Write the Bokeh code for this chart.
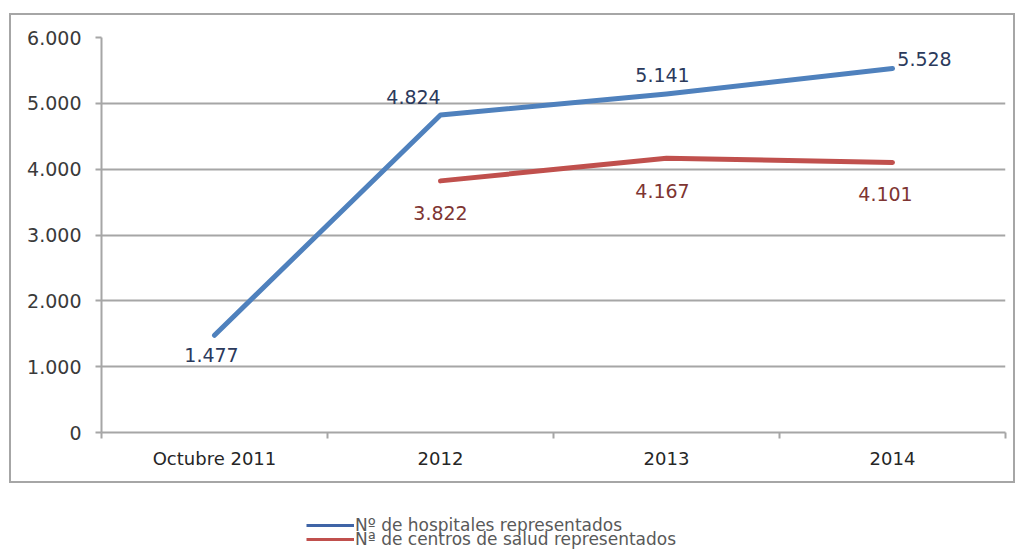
from bokeh.plotting import figure
from bokeh.layouts import column
from bokeh.models import FixedTicker, Legend, LegendItem, ColumnDataSource, Range1d
from bokeh.core.properties import value
from bokeh.embed import file_html
from bokeh.resources import INLINE

categories = ["Octubre 2011", "2012", "2013", "2014"]
hospitales = [1477, 4824, 5141, 5528]
centros = [None, 3822, 4167, 4101]
y_ticks = [0, 1000, 2000, 3000, 4000, 5000, 6000]
series_names = ["Nº de hospitales representados", "Nª de centros de salud representados"]

# label placement offsets (screen px) for data labels
hosp_dx = [-3, -27, -4, 32]
hosp_dy = [20, -18, -19, -10]
cent_dx = [0, 0, -4, -7]
cent_dy = [0, 32, 33, 31]

FONT = "DejaVu Sans"
GRID = "#A6A6A6"
BLUE = "#4F81BD"
RED = "#C0504D"


def fmt(v):
    return "{:,}".format(int(v)).replace(",", ".")


xs = [i + 0.5 for i in range(len(categories))]

p = figure(width=1006, height=470, output_backend="svg", toolbar_location=None,
           x_range=Range1d(0, len(categories)), y_range=Range1d(0, 6000),
           min_border_left=90, min_border_right=12, min_border_top=22, min_border_bottom=53)
p.outline_line_color = None
p.styles = {"border": "2px solid " + GRID}
p.margin = (13, 0, 0, 9)

p.xgrid.visible = False
p.ygrid.grid_line_color = GRID
p.ygrid.grid_line_width = 2
p.ygrid.ticker = FixedTicker(ticks=y_ticks)

p.yaxis.ticker = FixedTicker(ticks=y_ticks)
p.yaxis.major_label_overrides = {t: fmt(t) for t in y_ticks}
p.yaxis.axis_line_color = GRID
p.yaxis.axis_line_width = 2
p.yaxis.major_tick_line_color = GRID
p.yaxis.major_tick_line_width = 2
p.yaxis.major_tick_out = 6
p.yaxis.major_tick_in = 0
p.yaxis.minor_tick_line_color = None
p.yaxis.major_label_standoff = 14
p.yaxis.major_label_text_font = FONT
p.yaxis.major_label_text_font_size = "19px"
p.yaxis.major_label_text_color = "#3A3A3A"

p.xaxis.ticker = FixedTicker(ticks=xs, minor_ticks=list(range(len(categories) + 1)))
p.xaxis.major_label_overrides = {x: c for x, c in zip(xs, categories)}
p.xaxis.axis_line_color = GRID
p.xaxis.axis_line_width = 2
p.xaxis.major_tick_line_color = None
p.xaxis.major_tick_out = 0
p.xaxis.major_tick_in = 0
p.xaxis.minor_tick_line_color = GRID
p.xaxis.minor_tick_line_width = 2
p.xaxis.minor_tick_out = 6
p.xaxis.minor_tick_in = 0
p.xaxis.major_label_standoff = 9
p.xaxis.major_label_text_font = FONT
p.xaxis.major_label_text_font_size = "18px"
p.xaxis.major_label_text_color = "#262626"

hx = xs
hy = hospitales
cx = [x for x, v in zip(xs, centros) if v is not None]
cy = [v for v in centros if v is not None]

p.line(hx, hy, line_color=BLUE, line_width=5, line_cap="round", line_join="round")
p.line(cx, cy, line_color=RED, line_width=5, line_cap="round", line_join="round")

src_h = ColumnDataSource(dict(x=hx, y=hy, t=[fmt(v) for v in hy], dx=hosp_dx, dy=hosp_dy))
p.text(x="x", y="y", text="t", x_offset="dx", y_offset="dy", source=src_h,
       text_font=value(FONT), text_font_size="19px", text_color="#2B3A5C",
       text_align="center", text_baseline="middle")

cdx = [d for d, v in zip(cent_dx, centros) if v is not None]
cdy = [d for d, v in zip(cent_dy, centros) if v is not None]
src_c = ColumnDataSource(dict(x=cx, y=cy, t=[fmt(v) for v in cy], dx=cdx, dy=cdy))
p.text(x="x", y="y", text="t", x_offset="dx", y_offset="dy", source=src_c,
       text_font=value(FONT), text_font_size="19px", text_color="#7E3532",
       text_align="center", text_baseline="middle")

# legend figure below the bordered chart
q = figure(width=1018, height=71, output_backend="svg", toolbar_location=None,
           x_range=Range1d(0, len(categories)), y_range=Range1d(0, 6000),
           min_border_left=0, min_border_right=0, min_border_top=0, min_border_bottom=0)
q.axis.visible = False
q.grid.visible = False
q.outline_line_color = None
lr1 = q.line(hx, hy, line_color="#3F64A6", line_width=3, visible=False)
lr2 = q.line(cx, cy, line_color=RED, line_width=3, visible=False)

common = dict(padding=0, margin=0, spacing=0, glyph_width=48, glyph_height=14,
              label_height=14, label_standoff=1,
              label_text_font=FONT, label_text_font_size="17px", label_text_color="#595959",
              border_line_color=None, background_fill_alpha=0, click_policy="none")
leg1 = Legend(items=[LegendItem(label=series_names[0], renderers=[lr1])], location=(216, 19), **common)
leg2 = Legend(items=[LegendItem(label=series_names[1], renderers=[lr2])], location=(216, 5), **common)
q.add_layout(leg1, "center")
q.add_layout(leg2, "center")

layout = column(p, q, spacing=0)
open("out.html", "w").write(file_html(layout, INLINE))
